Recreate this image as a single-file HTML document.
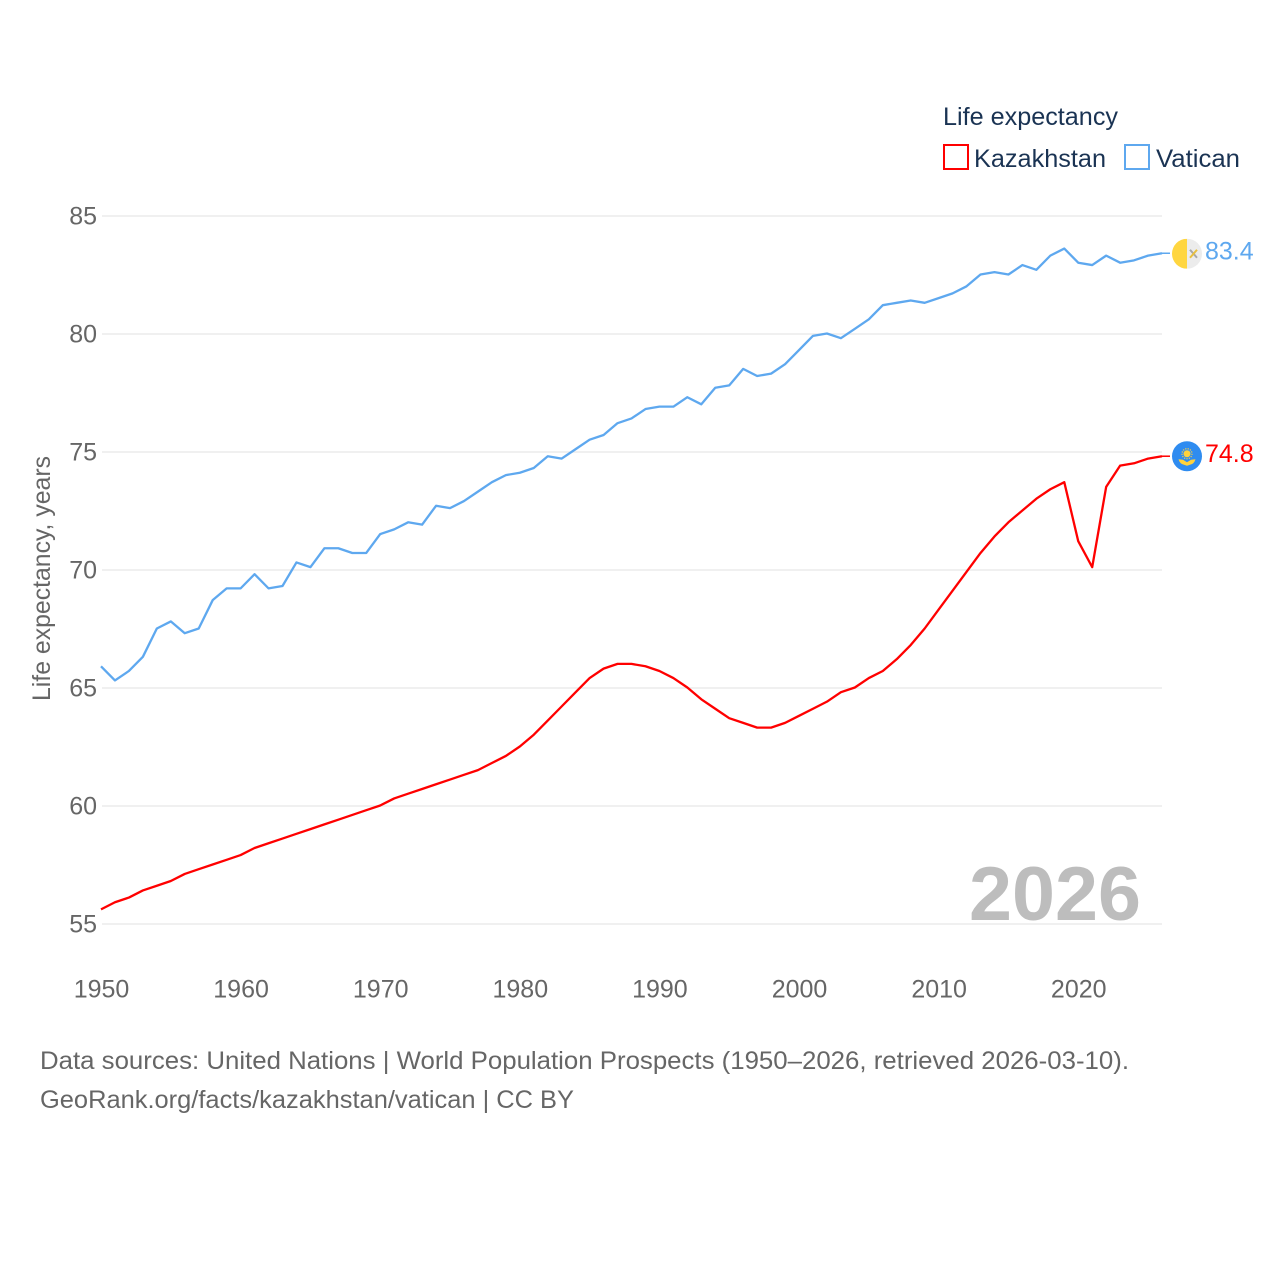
<!DOCTYPE html>
<html lang="en">
<head>
<meta charset="utf-8">
<title>Life expectancy: Kazakhstan and Vatican</title>
<style>
html,body{margin:0;padding:0;background:#fff;}
svg{display:block;font-family:"Liberation Sans",sans-serif;}
</style>
</head>
<body>
<svg id="chart" width="1280" height="1280" viewBox="0 0 1280 1280" xmlns="http://www.w3.org/2000/svg">
  <rect width="1280" height="1280" fill="#fff"/>
  <g id="grid"></g>
  <g id="yticks"></g>
  <g id="xticks"></g>
  <text transform="translate(50,701) rotate(-90)" font-size="25" fill="#666" textLength="245" lengthAdjust="spacingAndGlyphs">Life expectancy, years</text>
  <text x="969" y="920" font-size="76" font-weight="700" fill="#bdbdbd" textLength="172" lengthAdjust="spacingAndGlyphs">2026</text>
  <g id="series" transform="translate(0,-0.5)"></g>

  <g>
    <text x="943" y="125" font-size="25" fill="#1a3353" textLength="175" lengthAdjust="spacingAndGlyphs">Life expectancy</text>
    <g>
      <rect x="944" y="145" width="24" height="24" fill="#fff" stroke="#ff0000" stroke-width="2"/>
      <text x="974" y="167" font-size="25" fill="#1a3353" textLength="132" lengthAdjust="spacingAndGlyphs">Kazakhstan</text>
    </g>
    <g>
      <rect x="1125" y="145" width="24" height="24" fill="#fff" stroke="#5ea8ef" stroke-width="2"/>
      <text x="1156" y="167" font-size="25" fill="#1a3353" textLength="84" lengthAdjust="spacingAndGlyphs">Vatican</text>
    </g>
  </g>

  <g id="flag-vatican">
    <clipPath id="clipV"><circle cx="0" cy="0" r="15"/></clipPath>
    <g clip-path="url(#clipV)">
      <rect x="-15" y="-15" width="15" height="30" fill="#ffd640"/>
      <rect x="0" y="-15" width="15" height="30" fill="#ececec"/>
      <path d="M3 -4 L10 4" stroke="#a8a8a8" stroke-width="2"/>
      <path d="M10 -4 L3 4" stroke="#e8c040" stroke-width="2"/>
    </g>
  </g>
  <g id="flag-kazakhstan">
    <circle cx="0" cy="0" r="15" fill="#2f8cf0"/>
    <circle cx="0" cy="-2.5" r="3.5" fill="#ffd23c"/>
    <circle cx="0" cy="-2.5" r="5" fill="none" stroke="#ffd23c" stroke-width="1.2" stroke-dasharray="1.2 1.2"/>
    <path d="M-8.5 3 L-4 3.5 L0 6 L4 3.5 L8.5 3 Q7 8 3 8.5 L0 9.5 L-3 8.5 Q-7 8 -8.5 3 Z" fill="#ffd23c"/>
  </g>
  <g id="value-labels"></g>

  <g>
    <text x="40" y="1069" font-size="25" fill="#666" textLength="1089" lengthAdjust="spacingAndGlyphs">Data sources: United Nations | World Population Prospects (1950–2026, retrieved 2026-03-10).</text>
    <text x="40" y="1108" font-size="25" fill="#666" textLength="534" lengthAdjust="spacingAndGlyphs">GeoRank.org/facts/kazakhstan/vatican | CC BY</text>
  </g>
</svg>
<script>
var years = [1950,1951,1952,1953,1954,1955,1956,1957,1958,1959,1960,1961,1962,1963,1964,1965,1966,1967,1968,1969,1970,1971,1972,1973,1974,1975,1976,1977,1978,1979,1980,1981,1982,1983,1984,1985,1986,1987,1988,1989,1990,1991,1992,1993,1994,1995,1996,1997,1998,1999,2000,2001,2002,2003,2004,2005,2006,2007,2008,2009,2010,2011,2012,2013,2014,2015,2016,2017,2018,2019,2020,2021,2022,2023,2024,2025,2026];
var vaticanValues = [65.9,65.3,65.7,66.3,67.5,67.8,67.3,67.5,68.7,69.2,69.2,69.8,69.2,69.3,70.3,70.1,70.9,70.9,70.7,70.7,71.5,71.7,72.0,71.9,72.7,72.6,72.9,73.3,73.7,74.0,74.1,74.3,74.8,74.7,75.1,75.5,75.7,76.2,76.4,76.8,76.9,76.9,77.3,77.0,77.7,77.8,78.5,78.2,78.3,78.7,79.3,79.9,80.0,79.8,80.2,80.6,81.2,81.3,81.4,81.3,81.5,81.7,82.0,82.5,82.6,82.5,82.9,82.7,83.3,83.6,83.0,82.9,83.3,83.0,83.1,83.3,83.4];
var kazakhstanValues = [55.6,55.9,56.1,56.4,56.6,56.8,57.1,57.3,57.5,57.7,57.9,58.2,58.4,58.6,58.8,59.0,59.2,59.4,59.6,59.8,60.0,60.3,60.5,60.7,60.9,61.1,61.3,61.5,61.8,62.1,62.5,63.0,63.6,64.2,64.8,65.4,65.8,66.0,66.0,65.9,65.7,65.4,65.0,64.5,64.1,63.7,63.5,63.3,63.3,63.5,63.8,64.1,64.4,64.8,65.0,65.4,65.7,66.2,66.8,67.5,68.3,69.1,69.9,70.7,71.4,72.0,72.5,73.0,73.4,73.7,71.2,70.1,73.5,74.4,74.5,74.7,74.8];
var yTickLabels = [55,60,65,70,75,80,85];
var xTickLabels = [1950,1960,1970,1980,1990,2000,2010,2020];

var NS = 'http://www.w3.org/2000/svg';
function xScale(year){ return 101 + (year - 1950) * (1162 - 101) / 76; }
function yScale(value){ return 924 - (value - 55) * (924 - 216) / 30; }
function make(tag, parent){
  var el = document.createElementNS(NS, tag);
  parent.appendChild(el);
  return el;
}

var gridGroup = document.getElementById('grid');
var yGroup = document.getElementById('yticks');
yTickLabels.forEach(function(t){
  var line = make('line', gridGroup);
  
  
  line.setAttribute('x1', 102);
  line.setAttribute('x2', 1162);
  line.setAttribute('y1', yScale(t));
  line.setAttribute('y2', yScale(t));
  line.setAttribute('stroke', '#ebebeb');
  line.setAttribute('stroke-width', '1.5');
  var label = make('text', yGroup);
  
  
  label.setAttribute('x', 97);
  label.setAttribute('y', yScale(t) + 8.5);
  label.setAttribute('text-anchor', 'end');
  label.setAttribute('font-size', '25');
  label.setAttribute('fill', '#666');
  label.textContent = t;
});

var xGroup = document.getElementById('xticks');
xTickLabels.forEach(function(t){
  var label = make('text', xGroup);
  
  
  label.setAttribute('x', xScale(t) + 0.5);
  label.setAttribute('y', 997.5);
  label.setAttribute('text-anchor', 'middle');
  label.setAttribute('font-size', '25');
  label.setAttribute('fill', '#666');
  label.textContent = t;
});

function pathFor(values){
  return values.map(function(v, i){
    return (i ? 'L' : 'M') + xScale(years[i]).toFixed(2) + ' ' + yScale(v).toFixed(2);
  }).join(' ');
}

var seriesGroup = document.getElementById('series');
var labelGroup = document.getElementById('value-labels');

var vaticanLine = make('path', seriesGroup);


vaticanLine.setAttribute('d', pathFor(vaticanValues));
vaticanLine.setAttribute('fill', 'none');
vaticanLine.setAttribute('stroke', '#5ea8ef');
vaticanLine.setAttribute('stroke-width', '2.3');
vaticanLine.setAttribute('stroke-linejoin', 'round');

var kazakhstanLine = make('path', seriesGroup);


kazakhstanLine.setAttribute('d', pathFor(kazakhstanValues));
kazakhstanLine.setAttribute('fill', 'none');
kazakhstanLine.setAttribute('stroke', '#ff0000');
kazakhstanLine.setAttribute('stroke-width', '2.3');
kazakhstanLine.setAttribute('stroke-linejoin', 'round');

var lastV = vaticanValues[vaticanValues.length - 1];
var lastK = kazakhstanValues[kazakhstanValues.length - 1];

var vaticanLead = make('line', seriesGroup);


vaticanLead.setAttribute('x1', 1162);
vaticanLead.setAttribute('x2', 1170);
vaticanLead.setAttribute('y1', yScale(lastV));
vaticanLead.setAttribute('y2', yScale(lastV));
vaticanLead.setAttribute('stroke', '#5ea8ef');
vaticanLead.setAttribute('stroke-width', '1.5');

var kazakhstanLead = make('line', seriesGroup);


kazakhstanLead.setAttribute('x1', 1162);
kazakhstanLead.setAttribute('x2', 1170);
kazakhstanLead.setAttribute('y1', yScale(lastK));
kazakhstanLead.setAttribute('y2', yScale(lastK));
kazakhstanLead.setAttribute('stroke', '#ff0000');
kazakhstanLead.setAttribute('stroke-width', '1.5');

document.getElementById('flag-vatican').setAttribute('transform', 'translate(1187,' + yScale(lastV) + ')');
document.getElementById('flag-kazakhstan').setAttribute('transform', 'translate(1187,' + (yScale(lastK) - 0.5) + ')');

var vaticanLabel = make('text', labelGroup);


vaticanLabel.setAttribute('x', 1205);
vaticanLabel.setAttribute('y', yScale(lastV) + 5.5);
vaticanLabel.setAttribute('font-size', '25');
vaticanLabel.setAttribute('fill', '#5ea8ef');
vaticanLabel.textContent = lastV.toFixed(1);

var kazakhstanLabel = make('text', labelGroup);


kazakhstanLabel.setAttribute('x', 1205);
kazakhstanLabel.setAttribute('y', yScale(lastK) + 5.5);
kazakhstanLabel.setAttribute('font-size', '25');
kazakhstanLabel.setAttribute('fill', '#ff0000');
kazakhstanLabel.textContent = lastK.toFixed(1);
</script>
</body>
</html>
